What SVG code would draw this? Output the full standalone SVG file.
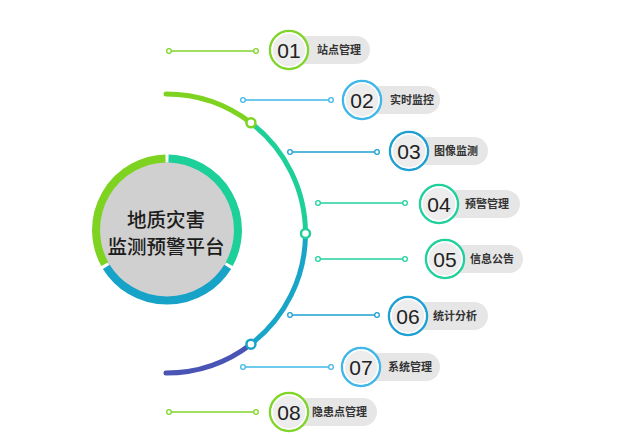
<svg xmlns="http://www.w3.org/2000/svg" width="623" height="437" viewBox="0 0 623 437">
<defs>
<style>
.lbl{font-family:"Liberation Sans","Noto Sans CJK SC",sans-serif;font-size:11px;font-weight:bold;fill:#333}
.num{font-family:"Liberation Sans",Arial,sans-serif;font-size:21px;fill:#222;text-anchor:middle}
.pill{fill:#e6e6e6}
.disc{fill:#ededed}
.in{fill:none;stroke:#fff;stroke-width:1.5}
.ln{fill:none;stroke-width:1.5}
.dot{fill:#fff;stroke-width:1.3}
.g{stroke:#80d52a}
.lb{stroke:#3fb7e8}
.b{stroke:#1ea0d2}
.t{stroke:#20d19c}
.title{font-family:"Noto Sans CJK SC","Liberation Sans",sans-serif;font-size:19.5px;font-weight:500;fill:#1c1c1c;text-anchor:middle}
</style>
</defs>
<rect width="623" height="437" fill="#fff"/>

<g id="hub">
<circle cx="167" cy="230" r="68" fill="#d0d0d0"/>
<path d="M104.78 264.21 A71.5 71.5 0 0 1 165.51 158.52" fill="none" stroke="#7ed321" stroke-width="8"/>
<path d="M168.49 158.52 A71.5 71.5 0 0 1 229.22 264.21" fill="none" stroke="#1dcf98" stroke-width="8"/>
<path d="M227.73 266.78 A71.5 71.5 0 0 1 106.27 266.78" fill="none" stroke="#17a3c8" stroke-width="8"/>
<text class="title" x="166" y="227">地质灾害</text>
<text class="title" x="166" y="254">监测预警平台</text>
</g>

<g id="connectors">
<path d="M166 94 A139.5 139.5 0 0 1 250.93 122.82" fill="none" stroke="#7ed321" stroke-width="5" stroke-linecap="round"/>
<path d="M250.93 122.82 A139.5 139.5 0 0 1 305.5 233.5" fill="none" stroke="#1fcf98" stroke-width="5"/>
<path d="M305.5 233.5 A139.5 139.5 0 0 1 250.93 344.18" fill="none" stroke="#19a5c8" stroke-width="5"/>
<path d="M250.93 344.18 A139.5 139.5 0 0 1 166 373" fill="none" stroke="#4a54b4" stroke-width="5" stroke-linecap="round"/>
<circle cx="250.93" cy="122.82" r="4.5" fill="#fff" stroke="#7ed321" stroke-width="2.5"/>
<circle cx="305.5" cy="233.5" r="4.5" fill="#fff" stroke="#1fcf98" stroke-width="2.5"/>
<circle cx="250.93" cy="344.18" r="4.5" fill="#fff" stroke="#19a5c8" stroke-width="2.5"/>

<line class="ln g" x1="169" y1="51" x2="256" y2="51"/><circle class="dot g" cx="169" cy="51" r="2.3"/><circle class="dot g" cx="256" cy="51" r="2.3"/>
<line class="ln lb" x1="243" y1="100" x2="331" y2="100"/><circle class="dot lb" cx="243" cy="100" r="2.3"/><circle class="dot lb" cx="331" cy="100" r="2.3"/>
<line class="ln b" x1="290" y1="152" x2="377" y2="152"/><circle class="dot b" cx="290" cy="152" r="2.3"/><circle class="dot b" cx="377" cy="152" r="2.3"/>
<line class="ln t" x1="318" y1="203" x2="405" y2="203"/><circle class="dot t" cx="318" cy="203" r="2.3"/><circle class="dot t" cx="405" cy="203" r="2.3"/>
<line class="ln t" x1="318" y1="259" x2="405" y2="259"/><circle class="dot t" cx="318" cy="259" r="2.3"/><circle class="dot t" cx="405" cy="259" r="2.3"/>
<line class="ln b" x1="290" y1="315" x2="377" y2="315"/><circle class="dot b" cx="290" cy="315" r="2.3"/><circle class="dot b" cx="377" cy="315" r="2.3"/>
<line class="ln lb" x1="243" y1="367" x2="331" y2="367"/><circle class="dot lb" cx="243" cy="367" r="2.3"/><circle class="dot lb" cx="331" cy="367" r="2.3"/>
<line class="ln g" x1="169" y1="412" x2="256" y2="412"/><circle class="dot g" cx="169" cy="412" r="2.3"/><circle class="dot g" cx="256" cy="412" r="2.3"/>
</g>

<g id="item01">
<rect class="pill" x="289" y="36" width="81" height="28" rx="14"/>
<circle class="disc" cx="289" cy="50" r="19" stroke="#80d52a" stroke-width="2.5"/>
<circle class="in" cx="289" cy="50" r="17"/>
<text class="num" x="289" y="57.5">01</text>
<text class="lbl" x="317" y="54">站点管理</text>
</g>
<g id="item02">
<rect class="pill" x="362" y="86" width="78" height="28" rx="14"/>
<circle class="disc" cx="362" cy="100" r="19" stroke="#3fb7e8" stroke-width="2.5"/>
<circle class="in" cx="362" cy="100" r="17"/>
<text class="num" x="362" y="107.5">02</text>
<text class="lbl" x="390" y="104">实时监控</text>
</g>
<g id="item03">
<rect class="pill" x="409" y="137" width="79" height="28" rx="14"/>
<circle class="disc" cx="409" cy="151" r="19" stroke="#1ea0d2" stroke-width="2.5"/>
<circle class="in" cx="409" cy="151" r="17"/>
<text class="num" x="409" y="158.5">03</text>
<text class="lbl" x="434" y="155">图像监测</text>
</g>
<g id="item04">
<rect class="pill" x="439" y="190" width="81" height="28" rx="14"/>
<circle class="disc" cx="439" cy="204" r="19" stroke="#20d19c" stroke-width="2.5"/>
<circle class="in" cx="439" cy="204" r="17"/>
<text class="num" x="439" y="211.5">04</text>
<text class="lbl" x="465" y="208">预警管理</text>
</g>
<g id="item05">
<rect class="pill" x="445" y="245" width="78" height="28" rx="14"/>
<circle class="disc" cx="445" cy="259" r="19" stroke="#20d19c" stroke-width="2.5"/>
<circle class="in" cx="445" cy="259" r="17"/>
<text class="num" x="445" y="266.5">05</text>
<text class="lbl" x="470" y="263">信息公告</text>
</g>
<g id="item06">
<rect class="pill" x="408" y="302" width="80" height="28" rx="14"/>
<circle class="disc" cx="408" cy="316" r="19" stroke="#1ea0d2" stroke-width="2.5"/>
<circle class="in" cx="408" cy="316" r="17"/>
<text class="num" x="408" y="323.5">06</text>
<text class="lbl" x="433" y="320">统计分析</text>
</g>
<g id="item07">
<rect class="pill" x="361" y="353" width="79" height="28" rx="14"/>
<circle class="disc" cx="361" cy="367" r="19" stroke="#3fb7e8" stroke-width="2.5"/>
<circle class="in" cx="361" cy="367" r="17"/>
<text class="num" x="361" y="374.5">07</text>
<text class="lbl" x="388" y="371">系统管理</text>
</g>
<g id="item08">
<rect class="pill" x="289" y="398" width="88" height="28" rx="14"/>
<circle class="disc" cx="289" cy="412" r="19" stroke="#80d52a" stroke-width="2.5"/>
<circle class="in" cx="289" cy="412" r="17"/>
<text class="num" x="289" y="419.5">08</text>
<text class="lbl" x="312" y="416">隐患点管理</text>
</g>
</svg>
